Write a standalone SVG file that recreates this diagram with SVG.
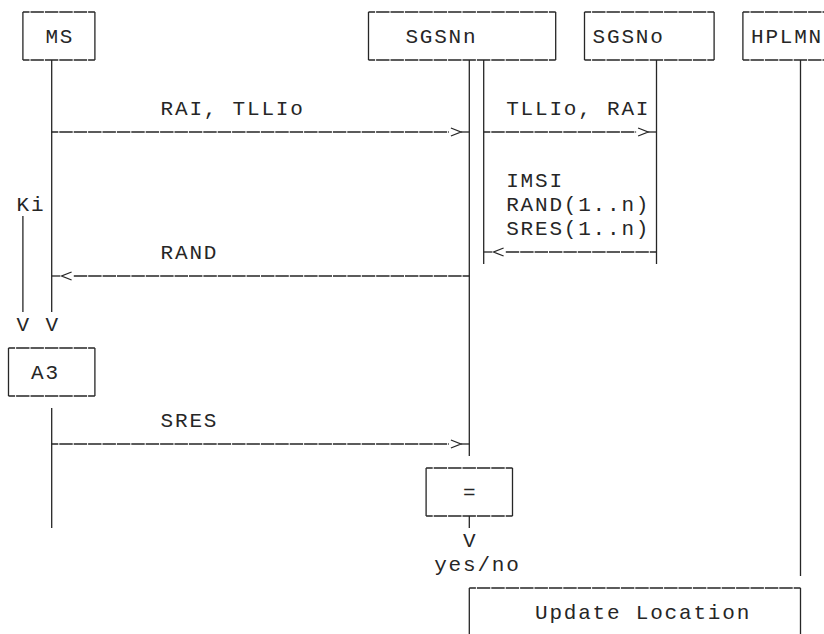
<svg xmlns="http://www.w3.org/2000/svg" width="824" height="634" viewBox="0 0 824 634">
  <style>
    .ln { stroke: #262626; stroke-width: 1.3; fill: none; }
    .d { stroke-dasharray: 13.4 1; stroke-dashoffset: 6.8; }
    .db { stroke-dasharray: 13.4 1; stroke-dashoffset: -0.7; }
    .ah { stroke: #262626; stroke-width: 1.3; fill: none; stroke-linejoin: miter; }
    text { font-family: "Liberation Mono", "DejaVu Sans Mono", monospace; font-size: 21px; letter-spacing: 1.8px; fill: #262626; }
  </style>
  <rect width="824" height="634" fill="#ffffff"/>

  <g id="node-MS">
    <path class="ln d" d="M22.9,12 H94.9 M22.9,60 H94.9"/>
    <path class="ln" d="M22.9,12 V60 M94.9,12 V60"/>
    <text x="45.4" y="42.9">MS</text>
  </g>
  <g id="node-SGSNn">
    <path class="ln d" d="M368.5,12 H555.7 M368.5,60 H555.7"/>
    <path class="ln" d="M368.5,12 V60 M555.7,12 V60"/>
    <text x="405.4" y="42.9">SGSNn</text>
  </g>
  <g id="node-SGSNo">
    <path class="ln d" d="M584.5,12 H714.1 M584.5,60 H714.1"/>
    <path class="ln" d="M584.5,12 V60 M714.1,12 V60"/>
    <text x="592.6" y="42.9">SGSNo</text>
  </g>
  <g id="node-HPLMN">
    <path class="ln d" d="M742.9,12 H829.3 M742.9,60 H829.3"/>
    <path class="ln" d="M742.9,12 V60 M829.3,12 V60"/>
    <text x="751" y="42.9">HPLMN</text>
  </g>
  <g id="node-A3">
    <path class="ln d" d="M8.5,348 H94.9 M8.5,396 H94.9"/>
    <path class="ln" d="M8.5,348 V396 M94.9,348 V396"/>
    <text x="31" y="378.9">A3</text>
  </g>
  <g id="node-compare">
    <path class="ln d" d="M426.1,468 H512.5 M426.1,516 H512.5"/>
    <path class="ln" d="M426.1,468 V516 M512.5,468 V516"/>
    <text x="463" y="498.9">=</text>
  </g>
  <g id="node-UpdateLocation">
    <path class="ln d" d="M469.3,588 H800.5"/>
    <path class="ln" d="M469.3,588 V640 M800.5,588 V640"/>
    <text x="535" y="618.9">Update Location</text>
  </g>

  <g id="connectors">
    <!-- lifelines -->
    <path class="ln" d="M51.7,60 V312 M51.7,408 V528"/>
    <path class="ln" d="M22.9,216 V312"/>
    <path class="ln" d="M469.3,60 V456"/>
    <path class="ln" d="M483.7,60 V264"/>
    <path class="ln" d="M656.5,60 V264"/>
    <path class="ln" d="M800.5,60 V576"/>
    <path class="ln" d="M469.3,516 V528"/>

    <!-- RAI, TLLIo : MS -> SGSNn -->
    <g id="msg-rai-tllio">
      <path class="ln d" d="M51.7,132 H448.9"/>
      <path class="ah" d="M450.9,128 L460.9,132 L450.9,136"/>
      <path class="ln" d="M460.9,132 H469.3"/>
      <text x="160.6" y="114.9">RAI, TLLIo</text>
    </g>
    <!-- TLLIo, RAI : SGSNn -> SGSNo -->
    <g id="msg-tllio-rai">
      <path class="ln d" d="M483.7,132 H636.1"/>
      <path class="ah" d="M638.1,128 L648.1,132 L638.1,136"/>
      <path class="ln" d="M648.1,132 H656.5"/>
      <text x="506.2" y="114.9">TLLIo, RAI</text>
    </g>
    <!-- IMSI RAND SRES : SGSNo -> SGSNn -->
    <g id="msg-auth-triplets">
      <path class="ln" d="M483.7,252 H492.1"/>
      <path class="ah" d="M503.6,248 L493.6,252 L503.6,256"/>
      <path class="ln db" d="M505.1,252 H656.5"/>
      <text x="506.2" y="186.9">IMSI</text>
      <text x="506.2" y="210.9">RAND(1..n)</text>
      <text x="506.2" y="234.9">SRES(1..n)</text>
    </g>
    <!-- RAND : SGSNn -> MS -->
    <g id="msg-rand">
      <path class="ln" d="M51.7,276 H60.1"/>
      <path class="ah" d="M71.6,272 L61.6,276 L71.6,280"/>
      <path class="ln db" d="M73.1,276 H469.3"/>
      <text x="160.6" y="258.9">RAND</text>
    </g>
    <!-- SRES : MS -> SGSNn -->
    <g id="msg-sres">
      <path class="ln d" d="M51.7,444 H448.9"/>
      <path class="ah" d="M450.9,440 L460.9,444 L450.9,448"/>
      <path class="ln" d="M460.9,444 H469.3"/>
      <text x="160.6" y="426.9">SRES</text>
    </g>

    <text x="16.6" y="210.9">Ki</text>
    <text x="16.6" y="330.9">V</text>
    <text x="45.4" y="330.9">V</text>
    <text x="463" y="546.9">V</text>
    <text x="434.2" y="570.9">yes/no</text>
  </g>
</svg>
